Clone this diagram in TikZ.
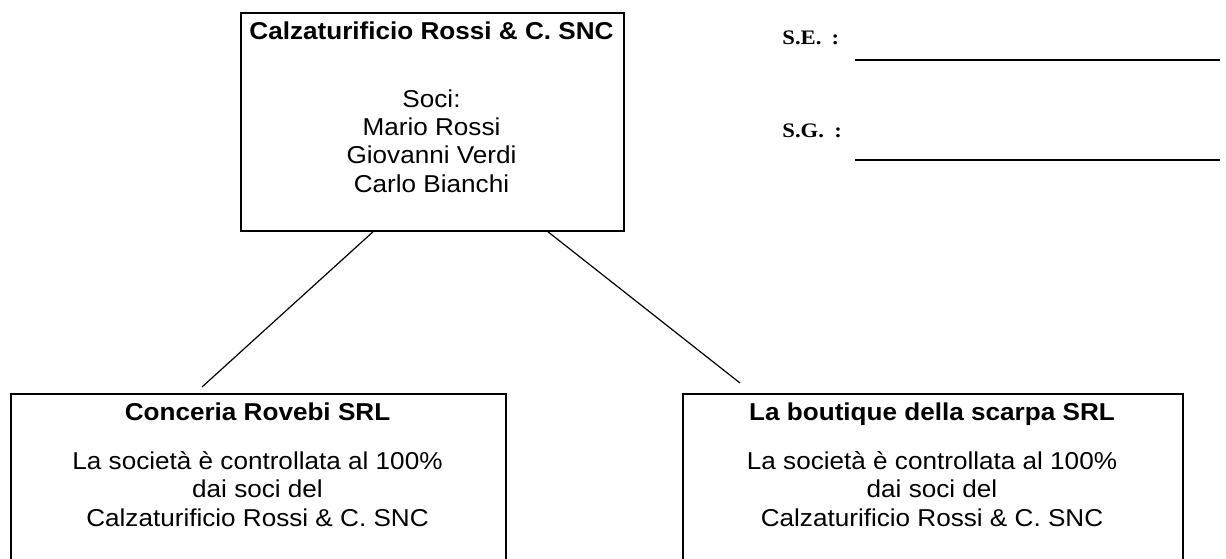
\documentclass[tikz,border=0pt]{standalone}
\usepackage{fontspec}
\setmainfont{Liberation Serif}
\newfontfamily\arialfont[FakeStretch=1.07]{Liberation Sans}
\newfontfamily\timesfont[FakeStretch=1.1]{Liberation Serif}
\begin{document}
\begin{tikzpicture}[x=0.5pt, y=-0.5pt,
  box/.style={draw, line width=0.9pt, anchor=north west, inner sep=0pt},
  txt/.style={font=\arialfont\fontsize{12.2}{14.1}\selectfont, align=center, anchor=base, inner sep=0pt},
  label/.style={font=\timesfont\bfseries\fontsize{10.3}{11}\selectfont, anchor=base west, inner sep=0pt},
  link/.style={line width=0.6pt}]
\clip (0,0) rectangle (1226,558);
% main company
\node[box, minimum width=191.5pt, minimum height=109pt] (snc) at (240,12) {};
\node[txt] (snctitle) at (431.5,39) {\bfseries Calzaturificio Rossi \& C. SNC};
\node[txt] (sncsoci) at (431.5,192) {Soci:\\ Mario Rossi\\ Giovanni Verdi\\ Carlo Bianchi};
% controlled companies
\node[box, minimum width=247.5pt, minimum height=110pt] (rovebi) at (10,393) {};
\node[txt] (rovebititle) at (257.5,420) {\bfseries Conceria Rovebi SRL};
\node[txt] (rovebitext) at (257.5,526) {La società è controllata al 100\%\\ dai soci del\\ Calzaturificio Rossi \& C. SNC};
\node[box, minimum width=250pt, minimum height=110pt] (boutique) at (682,393) {};
\node[txt] (boutiquetitle) at (932,420) {\bfseries La boutique della scarpa SRL};
\node[txt] (boutiquetext) at (932,526) {La società è controllata al 100\%\\ dai soci del\\ Calzaturificio Rossi \& C. SNC};
\draw[link] ([xshift=66.5pt]snc.south west) -- ([xshift=96pt,yshift=3pt]rovebi.north west);
\draw[link] ([xshift=154pt]snc.south west) -- ([xshift=29pt,yshift=5pt]boutique.north west);
% signatures
\node[label] (se) at (782,44) {S.E.\enspace:};
\node[label] (sg) at (782,137) {S.G.\enspace:};
\draw[line width=0.9pt] ([xshift=36.5pt,yshift=-8pt]se.base west) -- ++(365,0);
\draw[line width=0.9pt] ([xshift=36.5pt,yshift=-11.5pt]sg.base west) -- ++(365,0);
\end{tikzpicture}
\end{document}
